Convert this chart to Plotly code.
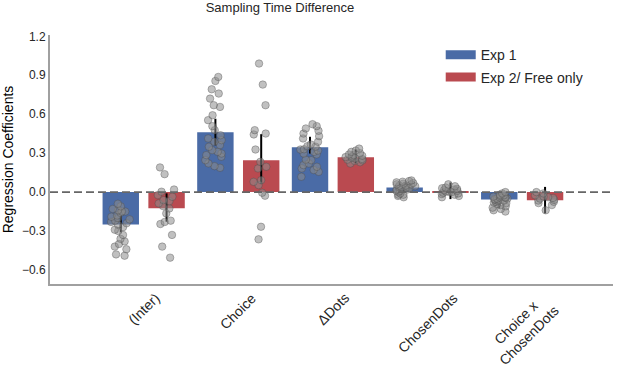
import plotly.graph_objects as go

categories = ["(Inter)", "Choice", "ΔDots", "ChosenDots", "Choice x<br>ChosenDots"]
series_names = ["Exp 1", "Exp 2/ Free only"]

exp1_mean = [-0.25, 0.46, 0.345, 0.035, -0.058]
exp1_lo = [-0.31, 0.36, 0.297, 0.0, -0.125]
exp1_hi = [-0.18, 0.565, 0.426, 0.075, 0.0]
exp2_mean = [-0.125, 0.246, 0.269, 0.005, -0.062]
exp2_lo = [-0.228, 0.062, 0.221, -0.054, -0.164]
exp2_hi = [-0.01, 0.446, 0.328, 0.074, 0.04]

exp1_inter = [-0.09, -0.11, -0.13, -0.14, -0.15, -0.15, -0.16, -0.18, -0.19, -0.2, -0.21, -0.22, -0.23,
              -0.24, -0.25, -0.27, -0.29, -0.3, -0.33, -0.36, -0.38, -0.4, -0.42, -0.44, -0.48, -0.49]
exp1_choice = [0.887, 0.856, 0.792, 0.759, 0.72, 0.669, 0.656, 0.592, 0.554, 0.508, 0.477, 0.438, 0.413,
               0.4, 0.387, 0.362, 0.349, 0.323, 0.31, 0.297, 0.285, 0.272, 0.246, 0.221, 0.2, 0.187]
exp1_ddots = [0.523, 0.508, 0.49, 0.472, 0.451, 0.431, 0.413, 0.387, 0.367, 0.354, 0.328, 0.31, 0.297,
              0.33, 0.32, 0.25, 0.246, 0.22, 0.208, 0.195, 0.182, 0.17, 0.156, 0.118, 0.35, 0.29]
exp1_chosen = [0.09, 0.085, 0.08, 0.075, 0.07, 0.06, 0.06, 0.05, 0.05, 0.045, 0.04, 0.04, 0.03, 0.03,
               0.02, 0.02, 0.01, 0.01, 0.0, -0.01, -0.02, -0.02, -0.03, -0.04, 0.065, 0.035]
exp1_cxc = [0.0, -0.01, -0.02, -0.025, -0.03, -0.035, -0.04, -0.045, -0.05, -0.05, -0.055, -0.06, -0.065,
            -0.07, -0.075, -0.08, -0.085, -0.09, -0.1, -0.11, -0.12, -0.13, -0.14, -0.15, -0.06, -0.04]

exp2_inter = [0.19, 0.138, 0.02, 0.003, -0.023, -0.036, -0.062, -0.087, -0.108, -0.126, -0.164, -0.22,
              -0.23, -0.246, -0.33, -0.42, -0.505, -0.07]
exp2_choice = [0.99, 0.828, 0.669, 0.477, 0.451, 0.444, 0.328, 0.233, 0.195, 0.182, 0.092, 0.079, 0.054,
               -0.005, -0.028, -0.267, -0.364]
exp2_ddots = [0.335, 0.32, 0.31, 0.3, 0.29, 0.285, 0.28, 0.275, 0.27, 0.265, 0.26, 0.255, 0.25, 0.245,
              0.24, 0.23, 0.22]
exp2_chosen = [0.06, 0.045, 0.035, 0.025, 0.02, 0.015, 0.01, 0.005, 0.0, -0.005, -0.01, -0.02, -0.03,
               -0.04, 0.03, 0.0, -0.015]
exp2_cxc = [0.0, -0.01, -0.025, -0.035, -0.045, -0.05, -0.06, -0.065, -0.075, -0.085, -0.1, -0.14, -0.04]

colors = ["#4A6BA6", "#BA4A50"]
FONT = "Liberation Sans, Arial, sans-serif"
TXT = "#262626"

xs = list(range(len(categories)))
fig = go.Figure()

means = [exp1_mean, exp2_mean]
los = [exp1_lo, exp2_lo]
his = [exp1_hi, exp2_hi]
points = [[exp1_inter, exp1_choice, exp1_ddots, exp1_chosen, exp1_cxc],
          [exp2_inter, exp2_choice, exp2_ddots, exp2_chosen, exp2_cxc]]

for i in range(2):
    fig.add_trace(go.Bar(
        x=xs, y=means[i], name=series_names[i], marker=dict(color=colors[i], line=dict(width=0)),
        offsetgroup=str(i), showlegend=False,
        error_y=dict(type="data", symmetric=False,
                     array=[h - m for h, m in zip(his[i], means[i])],
                     arrayminus=[m - l for l, m in zip(los[i], means[i])],
                     color="black", thickness=2, width=0),
    ))

for i in range(2):
    px_ = []
    py_ = []
    for k, vals in enumerate(points[i]):
        px_ += [k] * len(vals)
        py_ += vals
    fig.add_trace(go.Box(
        x=px_, y=py_, offsetgroup=str(i), boxpoints="all", jitter=0.6, pointpos=0,
        fillcolor="rgba(0,0,0,0)", line=dict(width=0, color="rgba(0,0,0,0)"),
        marker=dict(color="rgba(140,140,140,0.55)", size=7.5,
                    line=dict(color="rgba(70,70,70,0.45)", width=0.8)),
        showlegend=False, hoverinfo="y",
    ))

for i in range(2):
    fig.add_trace(go.Scatter(x=[None], y=[None], mode="lines", name=series_names[i],
                             line=dict(color=colors[i], width=9), legendgroup=str(i)))

fig.add_shape(type="line", xref="paper", yref="y", x0=0, x1=1, y0=0, y1=0,
              line=dict(color="#666666", width=1.8, dash="8px,4px"), layer="above")

for k, c in enumerate(categories):
    fig.add_annotation(x=k, y=0, xref="x", yref="paper", yanchor="top", xanchor="center",
                       yshift=-3, text=c, textangle=-45, showarrow=False,
                       font=dict(family=FONT, size=14, color=TXT))

fig.update_layout(
    width=617, height=368,
    margin=dict(l=48, r=4, t=35, b=84),
    paper_bgcolor="white", plot_bgcolor="white",
    barmode="group", bargap=0.032, bargroupgap=0.205,
    boxmode="group", boxgap=0.032, boxgroupgap=0.205,
    font=dict(family=FONT, color=TXT),
    title=dict(text="Sampling Time Difference", x=280 / 617, xref="container", xanchor="center",
               y=1 - 7 / 368, yref="container", yanchor="middle",
               font=dict(family=FONT, size=13, color=TXT)),
    legend=dict(x=0.694, y=0.983, xanchor="left", yanchor="top", bgcolor="rgba(0,0,0,0)",
                font=dict(family=FONT, size=14, color=TXT), tracegroupgap=1,
                traceorder="grouped"),
    xaxis=dict(range=[-0.99, 4.96], showgrid=False, zeroline=False, showline=True,
               linecolor="#a0a0a0", linewidth=2, tickvals=xs, showticklabels=False, ticks=""),
    yaxis=dict(range=[-0.708, 1.21], showgrid=False, zeroline=False, showline=True,
               linecolor="#a0a0a0", linewidth=2,
               tickvals=[-0.6, -0.3, 0.0, 0.3, 0.6, 0.9, 1.2],
               ticktext=["\u22120.6", "\u22120.3", "0.0", "0.3", "0.6", "0.9", "1.2"],
               ticks="", tickfont=dict(family=FONT, size=12, color=TXT),
               title=dict(text="Regression Coefficients", standoff=8,
                          font=dict(family=FONT, size=14, color="black"))),
)

fig.write_html("out.html", config={"displayModeBar": False},
               post_script="document.body.style.margin='0';")
